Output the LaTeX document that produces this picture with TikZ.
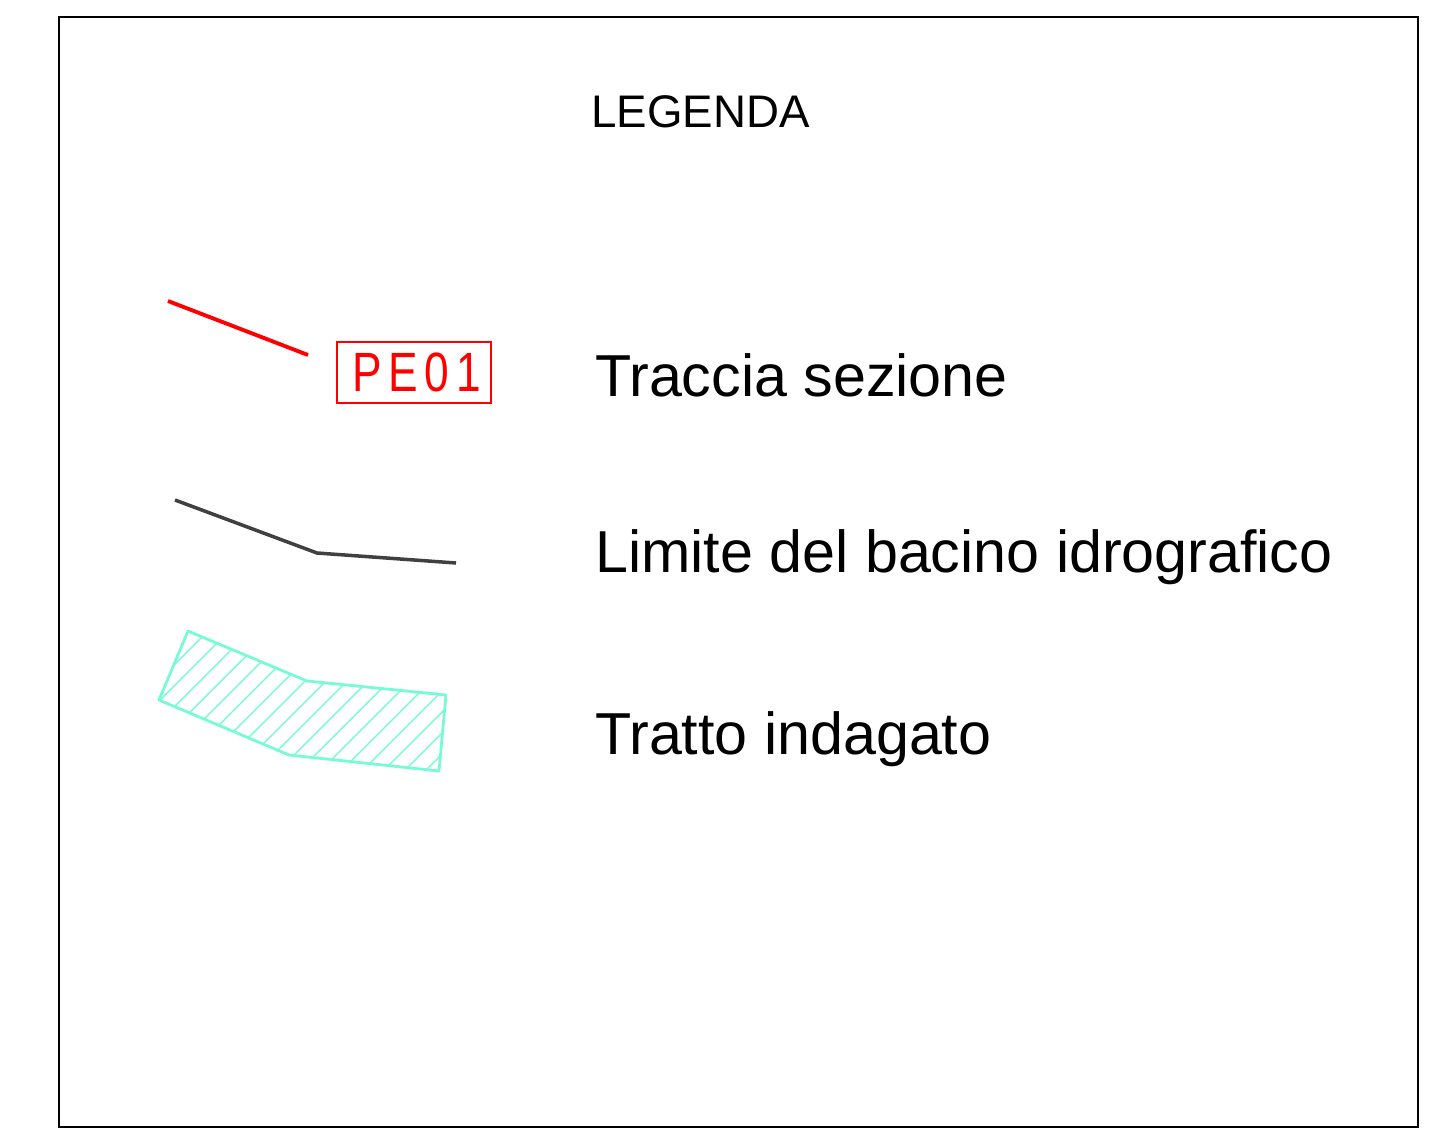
\documentclass[tikz,border=0pt]{standalone}
\usepackage{fontspec}
\setmainfont{Liberation Sans}
\newfontfamily\sigla[FakeStretch=0.8,LetterSpace=12]{Liberation Sans}
\usepackage{xcolor}
\definecolor{acqua}{RGB}{120,250,215}
\definecolor{grigio}{RGB}{64,64,64}

\begin{document}
\begin{tikzpicture}[x=0.02cm,y=-0.02cm,
  voce/.style={anchor=base west,inner sep=0pt,font=\fontsize{33.7}{38}\selectfont}]
\useasboundingbox (0,0) rectangle (1453,1139);
\draw[line width=0.8pt] (59,17) rectangle (1418,1127);
\node[anchor=base west,inner sep=0pt,font=\fontsize{26}{30}\selectfont] (legenda) at (591,127) {LEGENDA};
% traccia sezione
\draw[red,line width=2.2pt] (168,301) -- (308,355);
\node[draw=red,line width=1.1pt,text=red,minimum width=3.08cm,minimum height=1.22cm,inner sep=0pt,
  font=\sigla\fontsize{31.5}{34}\selectfont] (pe) at (414,372.5) {\hspace{0.1em}PE01};
\node[voce] (traccia) at (595,396) {Traccia sezione};
% limite bacino
\draw[grigio,line width=2pt] (175,500) -- (317,553) -- (456,563);
\node[voce] (limite) at (595,572) {Limite del bacino idrografico};
% tratto indagato
\begin{scope}
\clip (188,631) -- (307,681) -- (446,695) -- (439,771) -- (289,755) -- (159,700) -- cycle;
\foreach \c in {818,839,...,1220}
  \draw[acqua,line width=0.8pt] (\c-820,820) -- (\c-600,600);
\end{scope}
\draw[acqua,line width=1.6pt,line join=round] (188,631) -- (307,681) -- (446,695) -- (439,771) -- (289,755) -- (159,700) -- cycle;
\node[voce] (tratto) at (595,754) {Tratto indagato};
\end{tikzpicture}
\end{document}
